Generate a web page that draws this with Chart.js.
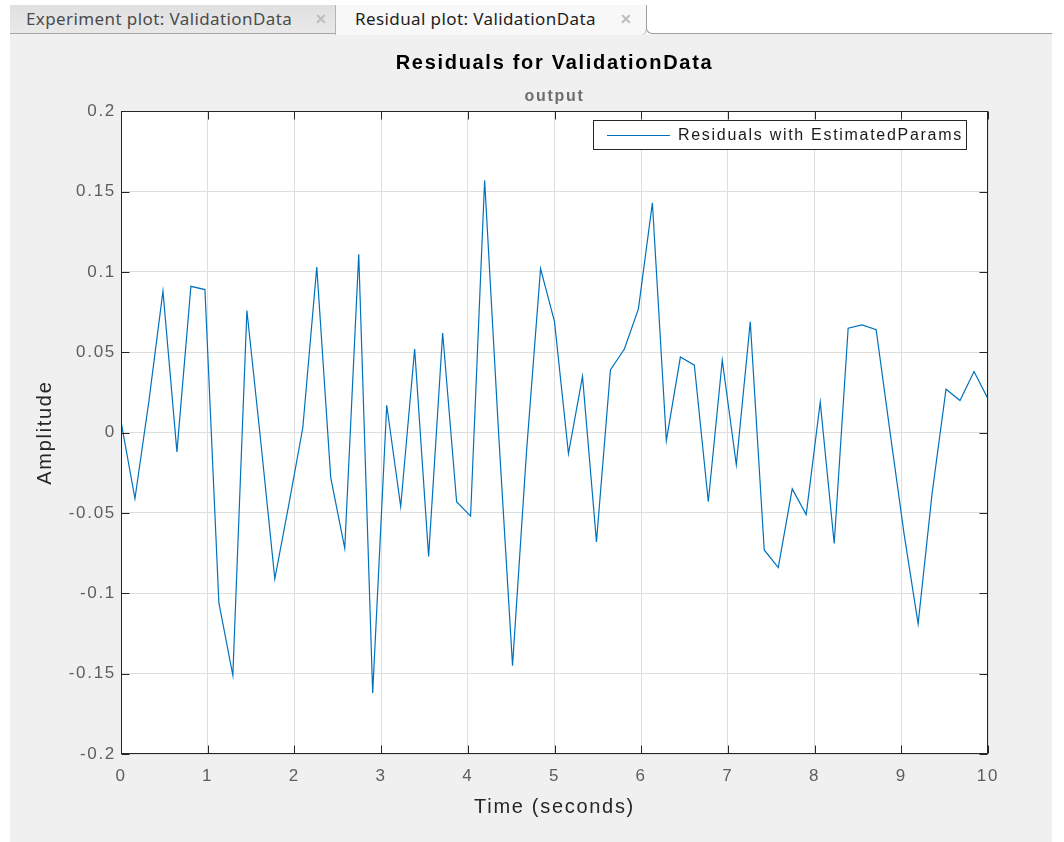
<!DOCTYPE html>
<html>
<head>
<meta charset="utf-8">
<script src="https://cdn.jsdelivr.net/npm/chart.js@4.4.0/dist/chart.umd.min.js"></script>
<style>
body{margin:0;background:#fff;width:1064px;height:842px;position:relative;overflow:hidden;}
#panel{position:absolute;left:10px;top:34px;width:1042px;height:808px;background:#f0f0f0;}
.tab{position:absolute;top:5px;height:29px;box-sizing:border-box;font-family:"Noto Sans","Open Sans",sans-serif;font-size:17px;letter-spacing:0.4px;line-height:27px;padding-left:16px;white-space:nowrap;}
#tab1{left:10px;width:325px;background:linear-gradient(#e0e0e0,#e9e9e9);color:#4b4b4b;border-bottom:1px solid #a8a8a8;}
#tab2{left:335px;width:312px;height:30px;background:#f8f8f8;color:#1e1e1e;border-left:1px solid #b4b4b4;border-right:1px solid #a0a0a0;border-bottom-right-radius:6px;padding-left:19px;}
#rest{position:absolute;left:646px;top:5px;width:406px;height:29px;box-sizing:border-box;border-bottom:1px solid #a0a0a0;border-left:1px solid #a0a0a0;border-bottom-left-radius:6px;background:#fff;}
.x{position:absolute;top:0;color:#bdbdbd;font-size:14px;font-weight:bold;}
#tab1 .x{left:305px;}
#tab2 .x{left:284px;}
canvas{position:absolute;left:0;top:0;}
</style>
</head>
<body>
<div id="panel"></div>
<div class="tab" id="tab1">Experiment plot: ValidationData<span class="x">&#x2715;</span></div>
<div id="rest"></div>
<div class="tab" id="tab2">Residual plot: ValidationData<span class="x">&#x2715;</span></div>
<canvas id="residuals" width="1064" height="842"></canvas>
<script>
// residual samples (step 10/62 s)
var times = [0, 0.161, 0.323, 0.484, 0.645, 0.806, 0.968, 1.129, 1.290, 1.452,
	1.613, 1.774, 1.935, 2.097, 2.258, 2.419, 2.581, 2.742, 2.903, 3.065,
	3.226, 3.387, 3.548, 3.710, 3.871, 4.032, 4.194, 4.355, 4.516, 4.677,
	4.839, 5.000, 5.161, 5.323, 5.484, 5.645, 5.806, 5.968, 6.129, 6.290,
	6.452, 6.613, 6.774, 6.935, 7.097, 7.258, 7.419, 7.581, 7.742, 7.903,
	8.065, 8.226, 8.387, 8.548, 8.710, 8.871, 9.032, 9.194, 9.355, 9.516,
	9.677, 9.839, 10.000];
var residuals = [0.007, -0.041, 0.020, 0.088, -0.012, 0.091, 0.089, -0.106, -0.151, 0.076,
	-0.006, -0.091, -0.045, 0.003, 0.103, -0.028, -0.072, 0.111, -0.162, 0.017,
	-0.046, 0.052, -0.077, 0.062, -0.043, -0.052, 0.157, 0.000, -0.145, -0.012,
	0.102, 0.069, -0.013, 0.035, -0.068, 0.039, 0.052, 0.077, 0.143, -0.005,
	0.047, 0.042, -0.043, 0.045, -0.020, 0.069, -0.073, -0.084, -0.035, -0.051,
	0.019, -0.069, 0.065, 0.067, 0.064, 0.000, -0.063, -0.119, -0.038, 0.027,
	0.020, 0.038, 0.021];
var seriesName = 'Residuals with EstimatedParams';
var xTicks = [0, 1, 2, 3, 4, 5, 6, 7, 8, 9, 10];
var xTickLabels = ['0', '1', '2', '3', '4', '5', '6', '7', '8', '9', '10'];
var yTicks = [-0.2, -0.15, -0.1, -0.05, 0, 0.05, 0.1, 0.15, 0.2];
var yTickLabels = ['-0.2', '-0.15', '-0.1', '-0.05', '0', '0.05', '0.1', '0.15', '0.2'];

var lineColor = '#0072bd';
var spacing = '1.7px';

Chart.defaults.font.family = '"Liberation Sans", Arial, sans-serif';

// matlab fonts come out a bit wider, so space the letters
var letterSpace = {
	id: 'letterSpace',
	beforeLayout: function(chart) { chart.ctx.letterSpacing = spacing; },
	beforeDraw: function(chart) {
		var ctx = chart.ctx, a = chart.chartArea;
		ctx.letterSpacing = spacing;
		ctx.save();
		ctx.fillStyle = '#fff';
		ctx.fillRect(a.left, a.top, a.right - a.left, a.bottom - a.top);
		ctx.restore();
	}
};

// box round the axes, inward ticks and the legend inside the plot
var axesBox = {
	id: 'axesBox',
	afterDatasetsDraw: function(chart) {
		var ctx = chart.ctx;
		var a = chart.chartArea;
		var sx = chart.scales.x, sy = chart.scales.y;
		var l = Math.round(a.left) + 0.5, r = Math.round(a.right) - 0.5;
		var t = Math.round(a.top) + 0.5, b = Math.round(a.bottom) - 0.5;
		ctx.save();
		ctx.strokeStyle = '#262626';
		ctx.lineWidth = 1;
		ctx.strokeRect(l, t, r - l, b - t);
		ctx.beginPath();
		for (var i in xTicks) {
			var px = Math.round(sx.getPixelForValue(xTicks[i])) + 0.5;
			ctx.moveTo(px, b); ctx.lineTo(px, b - 8);
			ctx.moveTo(px, t); ctx.lineTo(px, t + 8);
		}
		for (var j in yTicks) {
			var py = Math.round(sy.getPixelForValue(yTicks[j])) + 0.5;
			ctx.moveTo(l, py); ctx.lineTo(l + 8, py);
			ctx.moveTo(r, py); ctx.lineTo(r - 8, py);
		}
		ctx.stroke();

		var bw = 374, bh = 30;
		var bx = Math.round(a.right) - 21 - bw, by = Math.round(a.top) + 9;
		ctx.fillStyle = '#fff';
		ctx.fillRect(bx, by, bw, bh);
		ctx.strokeRect(bx + 0.5, by + 0.5, bw - 1, bh - 1);
		ctx.strokeStyle = lineColor;
		ctx.lineWidth = 1.2;
		ctx.beginPath();
		ctx.moveTo(bx + 14, by + 15.5);
		ctx.lineTo(bx + 77, by + 15.5);
		ctx.stroke();
		ctx.letterSpacing = spacing;
		ctx.font = '16px "Liberation Sans", Arial, sans-serif';
		ctx.fillStyle = '#1a1a1a';
		ctx.textBaseline = 'middle';
		ctx.textAlign = 'left';
		ctx.fillText(seriesName, bx + 85, by + 16);
		ctx.restore();
	}
};

var points = [];
for (var i in times) {
	points.push({x: times[i], y: residuals[i]});
}

var chartdata = {
	datasets: [
		{
			label: seriesName,
			data: points,
			borderColor: lineColor,
			borderWidth: 1.2,
			pointRadius: 0,
			tension: 0,
			fill: false
		}
	]
};

var ctx = document.getElementById('residuals');

var residualChart = new Chart(ctx, {
	type: 'line',
	data: chartdata,
	plugins: [letterSpace, axesBox],
	options: {
		responsive: false,
		animation: false,
		devicePixelRatio: 1,
		layout: {padding: {left: 0, right: 76, top: 0, bottom: 0}},
		plugins: {
			legend: {display: false},
			tooltip: {enabled: false},
			title: {
				display: true,
				text: 'Residuals for ValidationData',
				fullSize: false,
				color: '#000',
				font: {size: 20, weight: 'bold'},
				padding: {top: 51, bottom: 0}
			},
			subtitle: {
				display: true,
				text: 'output',
				fullSize: false,
				color: '#6e6e6e',
				font: {size: 16, weight: 'bold'},
				padding: {top: 12, bottom: 5}
			}
		},
		scales: {
			x: {
				type: 'linear',
				min: 0,
				max: 10,
				afterBuildTicks: function(scale) {
					scale.ticks = xTicks.map(function(v) { return {value: v}; });
				},
				afterFit: function(scale) { scale.height = 88; },
				ticks: {
					color: '#5e5e5e',
					font: {size: 17},
					padding: 12,
					maxRotation: 0,
					callback: function(v, idx) { return xTickLabels[idx]; }
				},
				grid: {color: '#dedede', drawTicks: false},
				border: {display: false},
				title: {
					display: true,
					text: 'Time (seconds)',
					color: '#262626',
					font: {size: 20},
					padding: {top: 0, bottom: 23}
				}
			},
			y: {
				min: -0.2,
				max: 0.2,
				afterBuildTicks: function(scale) {
					scale.ticks = yTicks.map(function(v) { return {value: v}; });
				},
				afterFit: function(scale) { scale.width = 121; },
				ticks: {
					color: '#5e5e5e',
					font: {size: 17},
					padding: 5,
					callback: function(v, idx) { return yTickLabels[idx]; }
				},
				grid: {color: '#dedede', drawTicks: false},
				border: {display: false},
				title: {
					display: true,
					text: 'Amplitude',
					color: '#262626',
					font: {size: 20},
					padding: {top: 33, bottom: 0}
				}
			}
		}
	}
});
</script>
</body>
</html>
